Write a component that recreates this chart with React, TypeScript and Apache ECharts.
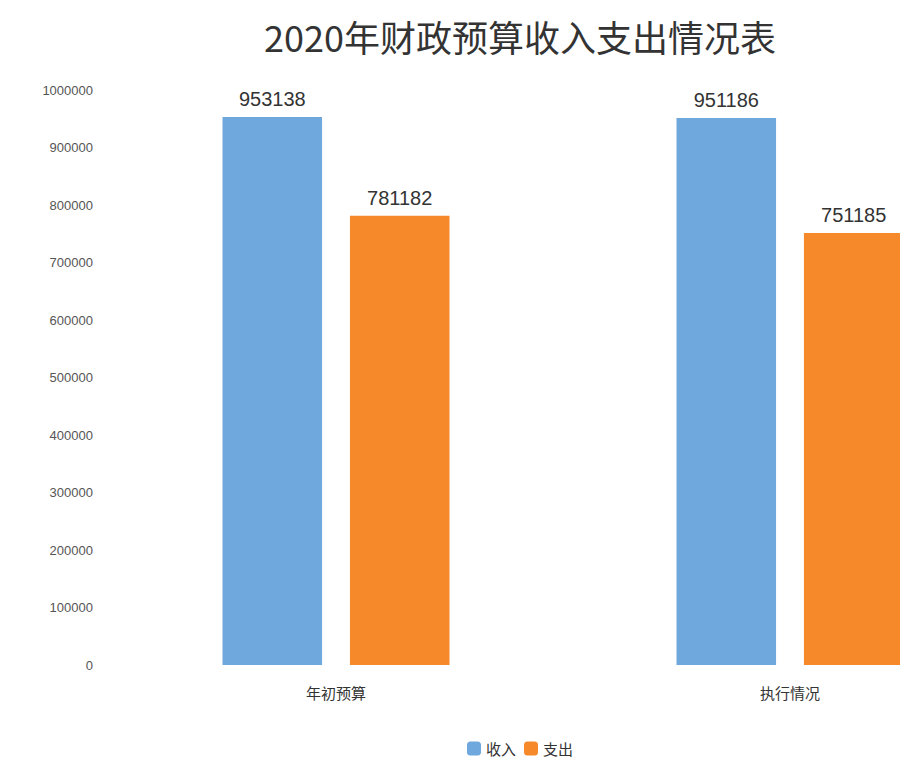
import React, { useEffect, useRef } from "react";
import * as echarts from "echarts";

const titleText = "2020年财政预算收入支出情况表";
const categories = ["年初预算", "执行情况"];
const seriesNames = ["收入", "支出"];
const incomeValues = [953138, 951186];
const expenseValues = [781182, 751185];
const yMax = 1000000;
const yInterval = 100000;

export default function App() {
  const ref = useRef<HTMLDivElement>(null);
  useEffect(() => {
    if (!ref.current) return;
    const chart = echarts.init(ref.current, undefined, { renderer: "svg" });
    chart.setOption({
      animation: false,
      backgroundColor: "#ffffff",
      title: {
        text: titleText,
        left: "center",
        top: 5,
        textStyle: { fontSize: 36, fontWeight: "normal", color: "#333", fontFamily: "Noto Sans CJK SC" },
      },
      legend: {
        data: seriesNames,
        bottom: 6,
        left: "center",
        itemWidth: 14,
        itemHeight: 14,
        textStyle: { fontSize: 15, color: "#333", fontFamily: "Noto Sans CJK SC" },
      },
      grid: { left: 101, right: 15, top: 82, bottom: 102 },
      xAxis: {
        type: "category",
        data: categories,
        axisLine: { show: false },
        axisTick: { show: false },
        axisLabel: { fontSize: 15, color: "#333", margin: 20, fontFamily: "Noto Sans CJK SC" },
      },
      yAxis: {
        type: "value",
        min: 0,
        max: yMax,
        interval: yInterval,
        axisLine: { show: false },
        axisTick: { show: false },
        splitLine: { show: false },
        axisLabel: { fontSize: 13, color: "#555", margin: 16, formatter: (v: number) => String(v) },
      },
      series: [
        {
          name: seriesNames[0],
          type: "bar",
          data: incomeValues,
          barCategoryGap: "50%",
          barGap: "28%",
          itemStyle: { color: "#6fa8dc" },
          label: { show: true, position: "top", fontSize: 20, color: "#333", distance: 8 },
        },
        {
          name: seriesNames[1],
          type: "bar",
          data: expenseValues,
          barCategoryGap: "50%",
          barGap: "28%",
          itemStyle: { color: "#f6892a" },
          label: { show: true, position: "top", fontSize: 20, color: "#333", distance: 8 },
        },
      ],
    });
    return () => chart.dispose();
  }, []);
  return <div ref={ref} style={{ width: 1024, height: 759 }} />;
}
